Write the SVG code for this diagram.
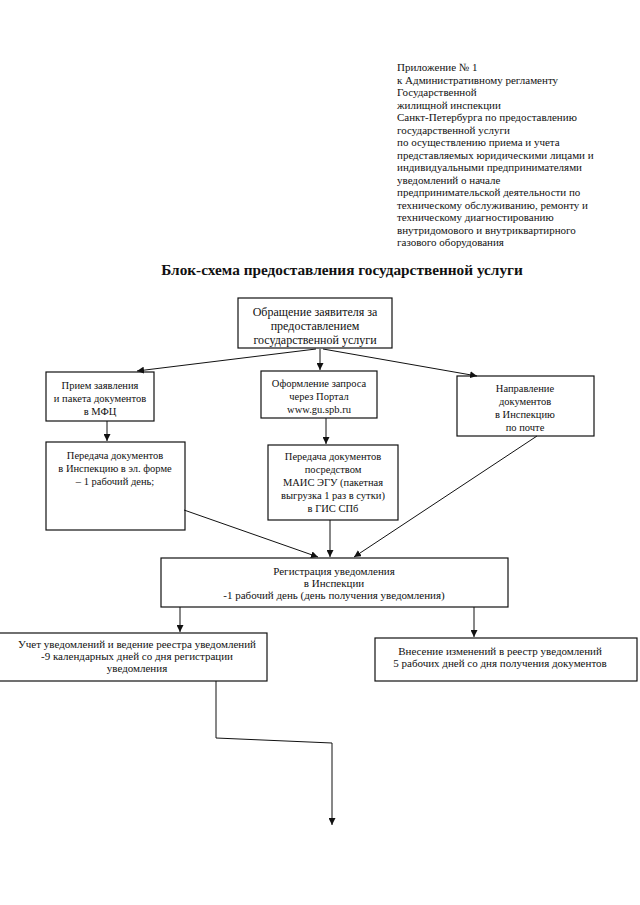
<svg xmlns="http://www.w3.org/2000/svg" width="640" height="905" viewBox="0 0 640 905">
<defs>
<style>
text{font-family:"Liberation Serif","DejaVu Serif",serif;fill:#111}
.hdr{font-size:11px}
.ttl{font-size:15.3px;font-weight:bold;text-anchor:middle}
.bx{font-size:10.5px;text-anchor:middle}
.bl{font-size:12px;text-anchor:middle}
.rg{font-size:11px;text-anchor:middle}
.node rect{fill:#fff;stroke:#111;stroke-width:1.2}
#connectors line,#connectors polyline{stroke:#111;stroke-width:1;fill:none;marker-end:url(#ah)}
</style>
<marker id="ah" viewBox="0 0 10 10" refX="10" refY="5" markerWidth="7" markerHeight="7" orient="auto" markerUnits="userSpaceOnUse">
<path d="M0,0 L10,5 L0,10 z" fill="#111"/>
</marker>
</defs>
<rect width="640" height="905" fill="#fff"/>

<g id="header" class="hdr">
<text x="397" y="71" class="hdr">Приложение № 1</text>
<text x="397" y="83.5" class="hdr">к Административному регламенту</text>
<text x="397" y="96" class="hdr">Государственной</text>
<text x="397" y="108.5" class="hdr">жилищной инспекции</text>
<text x="397" y="121" class="hdr">Санкт-Петербурга по предоставлению</text>
<text x="397" y="133.5" class="hdr">государственной услуги</text>
<text x="397" y="146" class="hdr">по осуществлению приема и учета</text>
<text x="397" y="158.5" class="hdr">представляемых юридическими лицами и</text>
<text x="397" y="171" class="hdr">индивидуальными предпринимателями</text>
<text x="397" y="183.5" class="hdr">уведомлений о начале</text>
<text x="397" y="196" class="hdr">предпринимательской деятельности по</text>
<text x="397" y="208.5" class="hdr">техническому обслуживанию, ремонту и</text>
<text x="397" y="221" class="hdr">техническому диагностированию</text>
<text x="397" y="233.5" class="hdr">внутридомового и внутриквартирного</text>
<text x="397" y="246" class="hdr">газового оборудования</text>
</g>

<text x="342" y="275" class="ttl">Блок-схема предоставления государственной услуги</text>

<g id="n-request" class="node">
<rect x="238" y="298" width="154" height="50"/>
<text x="315" y="316" class="bl">Обращение заявителя за</text>
<text x="315" y="330" class="bl">предоставлением</text>
<text x="315" y="344" class="bl">государственной услуги</text>
</g>

<g id="n-mfc" class="node">
<rect x="46" y="372" width="108" height="49"/>
<text x="100" y="389" class="bx">Прием заявления</text>
<text x="100" y="402" class="bx">и пакета документов</text>
<text x="100" y="415" class="bx">в МФЦ</text>
</g>

<g id="n-portal" class="node">
<rect x="261" y="371" width="116" height="47"/>
<text x="319" y="387" class="bx">Оформление запроса</text>
<text x="319" y="400" class="bx">через Портал</text>
<text x="319" y="413" class="bx">www.gu.spb.ru</text>
</g>

<g id="n-post" class="node">
<rect x="457" y="376" width="137" height="60"/>
<text x="525" y="392" class="bx">Направление</text>
<text x="525" y="405" class="bx">документов</text>
<text x="525" y="418" class="bx">в Инспекцию</text>
<text x="525" y="431" class="bx">по почте</text>
</g>

<g id="n-transfer1" class="node">
<rect x="46" y="442" width="139" height="88"/>
<text x="115" y="459" class="bx">Передача документов</text>
<text x="115" y="472" class="bx">в Инспекцию в эл. форме</text>
<text x="115" y="485" class="bx">– 1 рабочий день;</text>
</g>

<g id="n-transfer2" class="node">
<rect x="268" y="445" width="130" height="75"/>
<text x="333" y="460" class="bx">Передача документов</text>
<text x="333" y="473" class="bx">посредством</text>
<text x="333" y="486" class="bx">МАИС ЭГУ (пакетная</text>
<text x="333" y="499" class="bx">выгрузка 1 раз в сутки)</text>
<text x="333" y="512" class="bx">в ГИС СПб</text>
</g>

<g id="n-register" class="node">
<rect x="161" y="558" width="347" height="49"/>
<text x="334" y="575" class="rg">Регистрация уведомления</text>
<text x="334" y="587" class="rg">в Инспекции</text>
<text x="334" y="599" class="rg">-1 рабочий день (день получения уведомления)</text>
</g>

<g id="n-account" class="node">
<rect x="-2" y="633" width="269" height="48"/>
<text x="137" y="648" class="rg">Учет уведомлений  и ведение реестра уведомлений</text>
<text x="137" y="660" class="rg">-9 календарных дней со дня регистрации</text>
<text x="137" y="672" class="rg">уведомления</text>
</g>

<g id="n-changes" class="node">
<rect x="375" y="638" width="262" height="43"/>
<text x="500" y="655" class="rg">Внесение изменений в реестр уведомлений</text>
<text x="500" y="667" class="rg">5 рабочих дней со дня получения документов</text>
</g>

<g id="connectors">
<line x1="316" y1="349" x2="137" y2="371"/>
<line x1="320" y1="349" x2="320" y2="370"/>
<line x1="323" y1="349" x2="477" y2="376"/>
<line x1="107" y1="421" x2="107" y2="441"/>
<line x1="326" y1="418" x2="326" y2="444"/>
<line x1="184" y1="510" x2="318" y2="557"/>
<line x1="330" y1="520" x2="330" y2="557"/>
<line x1="537" y1="436" x2="354" y2="557"/>
<line x1="180" y1="607" x2="180" y2="632"/>
<line x1="474" y1="607" x2="474" y2="637"/>
<polyline points="216,681 216,738 332,743 332,825"/>
</g>
</svg>
